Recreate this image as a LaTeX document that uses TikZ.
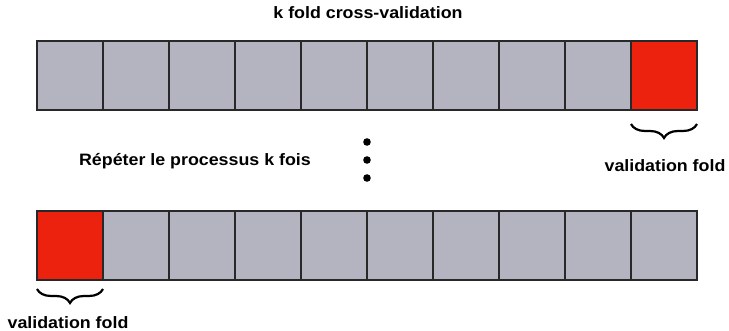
\documentclass[tikz,border=0pt]{standalone}
\usepackage{fontspec}
\setmainfont{Liberation Sans}
\newfontfamily\labelfont{Liberation Sans}[FakeStretch=1.08]
\usetikzlibrary{positioning,decorations.pathreplacing}
\definecolor{Fold}{RGB}{180,180,192}
\definecolor{ValRed}{RGB}{236,34,14}
\definecolor{Edge}{RGB}{40,40,40}
\tikzset{
  cell/.style={draw=Edge,line width=1.3pt,fill=Fold,minimum width=66pt,minimum height=69pt,inner sep=0pt,outer sep=0pt},
  valcell/.style={cell,fill=ValRed},
  lbl/.style={font=\labelfont\bfseries\fontsize{16.5}{19}\selectfont,inner sep=0pt},
  foldbrace/.style={decorate,decoration={brace,amplitude=14pt},line width=2.2pt},
}

\begin{document}
\begin{tikzpicture}[x=1pt,y=-1pt]
			\useasboundingbox (0,0) rectangle (729,331);
			\node[lbl,anchor=base] (title) at (368,19) {k fold cross-validation};
			% Premier découpage
			\foreach \i in {1,...,9} {
					\node[cell] (top\i) at ({37+66*(\i-0.5)},75.5) {};
				}
			\node[valcell] (top10) at (664,75.5) {};
			\draw[foldbrace] ([yshift=-14pt]top10.south east) -- ([yshift=-14pt]top10.south west);
			\node[lbl,anchor=base] (valtop) at (665,172) {validation fold};
			% Répétition
			\node[lbl,anchor=base] (repeat) at (195,166) {Répéter le processus k fois};
			\foreach \y in {142,160,178} {
					\fill (367,\y) circle (3.8pt);
				}
			% Dernier découpage
			\node[valcell] (bot1) at (70,245.5) {};
			\foreach \i in {2,...,10} {
					\node[cell] (bot\i) at ({37+66*(\i-0.5)},245.5) {};
				}
			\draw[foldbrace] ([yshift=-9pt]bot1.south east) -- ([yshift=-9pt]bot1.south west);
			\node[lbl,anchor=base] (valbot) at (68,329) {validation fold};
		\end{tikzpicture}
\end{document}
